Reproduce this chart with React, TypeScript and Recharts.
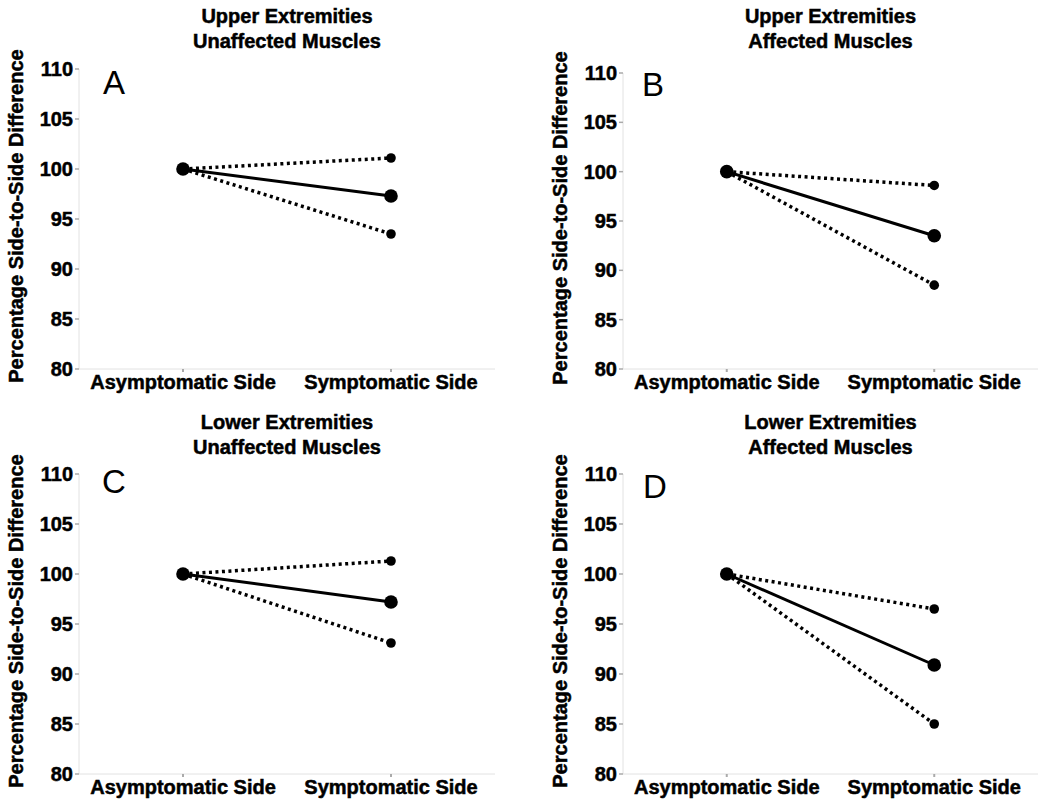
import { LineChart, Line, XAxis, YAxis } from "recharts";

const CATEGORIES = ["Asymptomatic Side", "Symptomatic Side"];
const Y_TICKS = [80, 85, 90, 95, 100, 105, 110];

const UPPER_UNAFFECTED_MEAN = [100, 97.3];
const UPPER_UNAFFECTED_HIGH = [100, 101.1];
const UPPER_UNAFFECTED_LOW = [100, 93.5];

const UPPER_AFFECTED_MEAN = [100, 93.5];
const UPPER_AFFECTED_HIGH = [100, 98.6];
const UPPER_AFFECTED_LOW = [100, 88.5];

const LOWER_UNAFFECTED_MEAN = [100, 97.2];
const LOWER_UNAFFECTED_HIGH = [100, 101.3];
const LOWER_UNAFFECTED_LOW = [100, 93.1];

const LOWER_AFFECTED_MEAN = [100, 90.9];
const LOWER_AFFECTED_HIGH = [100, 96.5];
const LOWER_AFFECTED_LOW = [100, 85.0];

const FONT = '"Liberation Sans", Arial, Helvetica, sans-serif';
const Y_LABEL = "Percentage Side-to-Side Difference";

// bold text in the source is quite heavy, a thin stroke thickens it a bit
const TICK_STYLE = {
  fill: "#000",
  stroke: "#000",
  strokeWidth: 0.5,
  fontSize: 20,
  fontWeight: "bold",
  fontFamily: FONT,
};

interface PanelProps {
  title: string[];
  letter: string;
  mean: number[];
  high: number[];
  low: number[];
  left: number;
  top: number;
  margin: { top: number; right: number; bottom: number; left: number };
  titleTop: number;
  letterPos: { x: number; y: number };
}

function YLabel(props: any) {
  const vb = props.viewBox || {};
  const cx = vb.x + vb.width - 63;
  const cy = vb.y + vb.height / 2 - 3;
  return (
    <text
      x={cx}
      y={cy}
      transform={`rotate(-90, ${cx}, ${cy})`}
      textAnchor="middle"
      dominantBaseline="central"
      fontFamily={FONT}
      fontWeight="bold"
      fontSize={20}
      fill="#000"
      stroke="#000"
      strokeWidth={0.5}
    >
      {Y_LABEL}
    </text>
  );
}

function Panel({ title, letter, mean, high, low, left, top, margin, titleTop, letterPos }: PanelProps) {
  const W = 525;
  const H = 403;
  const rows = CATEGORIES.map((name, i) => ({
    pos: i,
    name,
    mean: mean[i],
    high: high[i],
    low: low[i],
  }));
  const plotLeft = margin.left + 50;
  const plotWidth = W - plotLeft - margin.right;

  return (
    <div style={{ position: "absolute", left, top, width: W, height: H }}>
      <LineChart width={W} height={H} data={rows} margin={margin}>
        <XAxis
          dataKey="pos"
          type="number"
          domain={[-0.5, 1.5]}
          ticks={[0, 1]}
          tickFormatter={(v: number) => CATEGORIES[v]}
          height={30}
          stroke="#e2e2e2"
          tickLine={{ stroke: "#aaa", strokeWidth: 2 }}
          tickSize={3}
          tickMargin={3}
          tick={TICK_STYLE}
        />
        <YAxis
          type="number"
          domain={[80, 110]}
          ticks={Y_TICKS}
          width={50}
          stroke="#e2e2e2"
          tickLine={{ stroke: "#aaa", strokeWidth: 1.5 }}
          tickSize={4}
          tickMargin={2}
          tick={TICK_STYLE}
          label={{ content: (p: any) => <YLabel {...p} /> }}
        />
        <Line
          dataKey="high"
          stroke="#000"
          strokeWidth={3.5}
          strokeDasharray="3 3.5"
          dot={{ r: 4.8, fill: "#000", stroke: "none", strokeDasharray: "" }}
          activeDot={false}
          isAnimationActive={false}
        />
        <Line
          dataKey="low"
          stroke="#000"
          strokeWidth={3.5}
          strokeDasharray="3 3.5"
          dot={{ r: 4.8, fill: "#000", stroke: "none", strokeDasharray: "" }}
          activeDot={false}
          isAnimationActive={false}
        />
        <Line
          dataKey="mean"
          stroke="#000"
          strokeWidth={3}
          dot={{ r: 6.8, fill: "#000", stroke: "none" }}
          activeDot={false}
          isAnimationActive={false}
        />
      </LineChart>
      <div
        style={{
          position: "absolute",
          left: plotLeft,
          width: plotWidth,
          top: titleTop,
          textAlign: "center",
          fontFamily: FONT,
          fontWeight: "bold",
          fontSize: 20,
          lineHeight: "25px",
          color: "#000",
          WebkitTextStroke: "0.5px #000",
        }}
      >
        {title.map((t) => (
          <div key={t}>{t}</div>
        ))}
      </div>
      <div
        style={{
          position: "absolute",
          left: letterPos.x,
          top: letterPos.y,
          fontFamily: FONT,
          fontSize: 33,
          lineHeight: "33px",
          color: "#000",
        }}
      >
        {letter}
      </div>
    </div>
  );
}

export default function App() {
  return (
    <div
      style={{
        position: "absolute",
        left: 0,
        top: 0,
        width: 1050,
        height: 806,
        background: "#fff",
      }}
    >
      <Panel
        title={["Upper Extremities", "Unaffected Muscles"]}
        letter="A"
        mean={UPPER_UNAFFECTED_MEAN}
        high={UPPER_UNAFFECTED_HIGH}
        low={UPPER_UNAFFECTED_LOW}
        left={0}
        top={0}
        margin={{ top: 69, right: 30, bottom: 4, left: 29 }}
        titleTop={4}
        letterPos={{ x: 103, y: 66 }}
      />
      <Panel
        title={["Upper Extremities", "Affected Muscles"]}
        letter="B"
        mean={UPPER_AFFECTED_MEAN}
        high={UPPER_AFFECTED_HIGH}
        low={UPPER_AFFECTED_LOW}
        left={525}
        top={0}
        margin={{ top: 73, right: 12, bottom: 4, left: 48 }}
        titleTop={4}
        letterPos={{ x: 117, y: 68 }}
      />
      <Panel
        title={["Lower Extremities", "Unaffected Muscles"]}
        letter="C"
        mean={LOWER_UNAFFECTED_MEAN}
        high={LOWER_UNAFFECTED_HIGH}
        low={LOWER_UNAFFECTED_LOW}
        left={0}
        top={403}
        margin={{ top: 71, right: 30, bottom: 2, left: 29 }}
        titleTop={7}
        letterPos={{ x: 102, y: 62 }}
      />
      <Panel
        title={["Lower Extremities", "Affected Muscles"]}
        letter="D"
        mean={LOWER_AFFECTED_MEAN}
        high={LOWER_AFFECTED_HIGH}
        low={LOWER_AFFECTED_LOW}
        left={525}
        top={403}
        margin={{ top: 71, right: 12, bottom: 2, left: 48 }}
        titleTop={7}
        letterPos={{ x: 118, y: 67 }}
      />
    </div>
  );
}
